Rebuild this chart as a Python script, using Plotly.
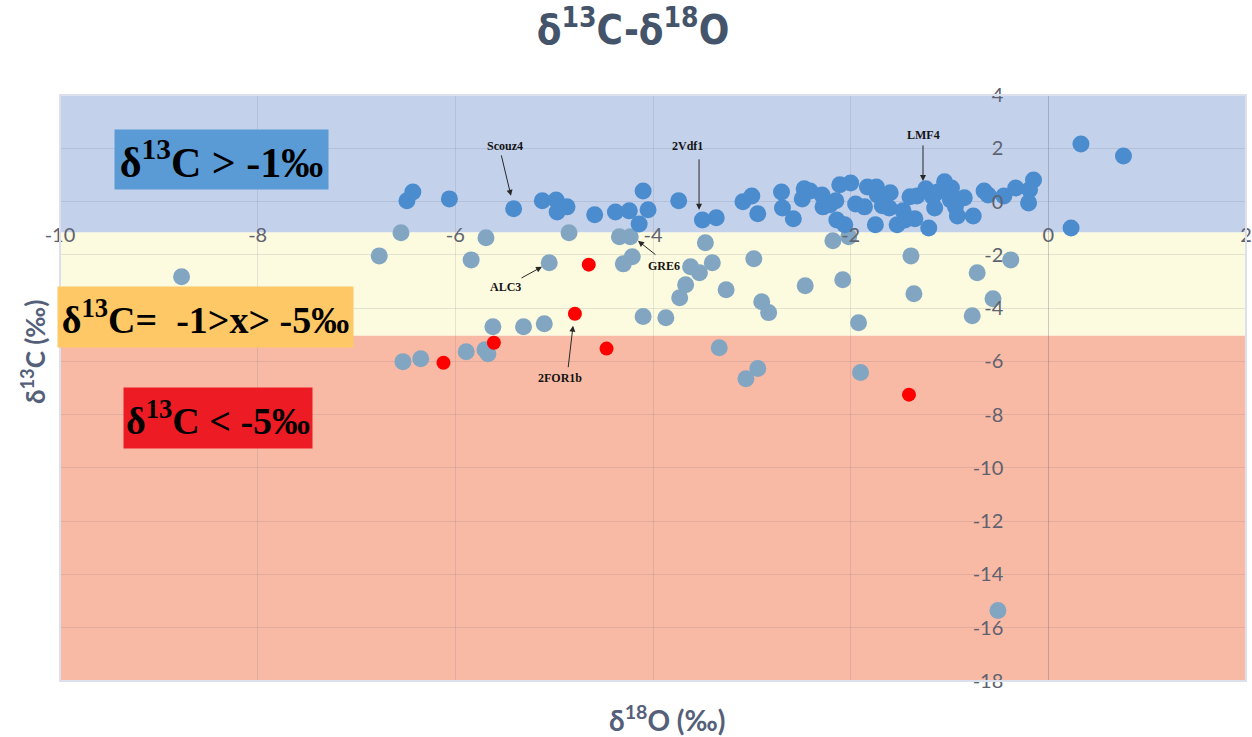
import plotly.graph_objects as go

# ---------------- data ----------------
# points with d13C > -1 permil (blue)
blue_d18O = [-6.49, -6.43, -6.06, -5.41, -5.12, -4.98, -4.87, -4.97, -4.59, -4.38,
             -4.24, -4.10, -4.05, -4.14, -3.74, -3.50, -3.36, -3.09, -3.00, -2.94,
             -2.70, -2.69, -2.58, -2.47, -2.41, -2.49, -2.29, -2.28, -2.21, -2.15,
             -2.11, -2.00, -2.14, -2.06, -1.95, -1.86, -1.83, -1.74, -1.73, -1.68,
             -1.61, -1.60, -1.75, -1.53, -1.47, -1.40, -1.33, -1.35, -1.24, -1.17,
             -1.12, -1.21, -1.15, -1.05, -0.98, -0.99, -0.94, -0.92, -0.85, -0.76,
             -0.65, -0.61, -0.45, -0.33, -0.15, -0.19, -0.20, 0.23, 0.33, 0.76,
             -1.45]
blue_d13C = [0.03, 0.36, 0.10, -0.27, 0.03, 0.06, -0.20, -0.39, -0.50, -0.39,
             -0.35, 0.40, -0.31, -0.84, 0.03, -0.69, -0.61, -0.01, 0.21, -0.46,
             0.36, -0.24, -0.65, 0.48, 0.40, 0.10, 0.25, -0.20, -0.12, 0.03,
             0.63, 0.70, -0.69, -0.87, -0.09, -0.20, 0.55, 0.55, 0.25, -0.16,
             -0.24, 0.33, -0.87, -0.87, -0.35, 0.18, 0.21, -0.65, 0.48, 0.18,
             0.36, -0.99, -0.24, 0.74, 0.51, 0.06, -0.20, -0.54, 0.14, -0.54,
             0.40, 0.25, 0.21, 0.51, 0.81, 0.44, -0.05, -0.99, 2.16, 1.71,
             -0.69]

# points with d13C below -1 permil (grey-blue)
grey_d18O = [-6.55, -6.77, -8.77, -5.69, -4.85, -4.34, -4.23, -5.84, -5.05, -4.30,
             -4.21, -3.47, -3.62, -3.53, -3.40, -3.67, -3.73, -3.26, -2.98, -2.90,
             -2.83, -2.46, -4.10, -3.87, -5.62, -5.31, -5.10, -5.89, -5.70, -5.67,
             -6.35, -6.53, -3.33, -2.94, -3.06, -2.18, -2.02, -1.39, -0.38, -2.08,
             -1.36, -0.72, -0.56, -0.77, -1.92, -1.90, -0.51]
grey_d13C = [-1.17, -2.04, -2.82, -1.36, -1.17, -1.32, -1.32, -2.19, -2.30, -2.34,
             -2.07, -1.55, -2.45, -2.67, -2.30, -3.12, -3.61, -3.31, -2.15, -3.76,
             -4.17, -3.16, -4.32, -4.36, -4.70, -4.70, -4.59, -5.64, -5.56, -5.71,
             -5.90, -6.01, -5.49, -6.27, -6.65, -1.47, -1.32, -2.04, -2.19, -2.94,
             -3.46, -2.67, -3.65, -4.29, -4.55, -6.42, -15.35]

# highlighted samples (red)
red_d18O = [-4.65, -4.79, -5.61, -6.12, -4.47, -1.41]
red_d13C = [-2.37, -4.21, -5.30, -6.05, -5.52, -7.25]

# axis ticks
x_ticks = [-10, -8, -6, -4, -2, 0, 2]
x_tick_labels = ["-10", "-8", "-6", "-4", "-2", "0", "2"]
y_ticks = [4, 2, 0, -2, -4, -6, -8, -10, -12, -14, -16, -18]
y_tick_labels = ["4", "2", "0", "-2", "-4", "-6", "-8", "-10", "-12", "-14", "-16", "-18"]

# zone limits (d13C)
zone_upper = -1.16
zone_lower = -5.04

# labelled samples: name, tip (x, y), tail offset px, text position (x, y)
sample_names = ["Scouz4", "2Vdf1", "LMF4", "GRE6", "ALC3", "2FOR1b"]
tip_x = [-5.437, -3.534, -1.268, -4.152, -5.123, -4.809]
tip_y = [0.213, -0.312, 0.775, -1.474, -2.449, -4.661]
tail_dx = [-10, 0, 0, 19, -22, -5]
tail_dy = [-42, -52, -37, 15, 12, 43]
name_x = [-5.497, -3.646, -1.268, -3.889, -5.497, -4.941]
name_y = [2.088, 2.088, 2.50, -2.412, -3.199, -6.611]

# ---------------- figure ----------------
X0, X1 = -10, 2
Y0, Y1 = -18, 4
X_AXIS_AT = -0.72   # where the horizontal axis labels sit (d13C)

fig = go.Figure()

fig.add_trace(go.Scatter(x=grey_d18O, y=grey_d13C, mode="markers",
                         marker=dict(size=17, color="rgb(130,166,194)", line=dict(width=0)),
                         hoverinfo="x+y", showlegend=False))
fig.add_trace(go.Scatter(x=blue_d18O, y=blue_d13C, mode="markers",
                         marker=dict(size=17, color="rgb(74,140,206)", line=dict(width=0)),
                         hoverinfo="x+y", showlegend=False))
fig.add_trace(go.Scatter(x=red_d18O, y=red_d13C, mode="markers",
                         marker=dict(size=14, color="rgb(255,0,0)", line=dict(width=0)),
                         hoverinfo="x+y", showlegend=False))

shapes = [
    dict(type="rect", xref="x", yref="y", x0=X0, x1=X1, y0=zone_upper, y1=Y1,
         fillcolor="rgb(195,209,235)", line=dict(width=0), layer="below"),
    dict(type="rect", xref="x", yref="y", x0=X0, x1=X1, y0=zone_lower, y1=zone_upper,
         fillcolor="rgb(252,250,223)", line=dict(width=0), layer="below"),
    dict(type="rect", xref="x", yref="y", x0=X0, x1=X1, y0=Y0, y1=zone_lower,
         fillcolor="rgb(249,186,165)", line=dict(width=0), layer="below"),
    dict(type="rect", xref="paper", yref="paper", x0=0, x1=1, y0=0, y1=1,
         line=dict(width=2, color="rgb(220,224,236)"), layer="above"),
]

annotations = []
# zone label boxes
box_font = "Liberation Serif, Times New Roman, serif"
annotations.append(dict(x=-8.366, y=1.58, xref="x", yref="y", showarrow=False,
                        text="δ<sup>13</sup>C &gt; -1‰", width=211, height=57,
                        bgcolor="rgb(91,155,213)", align="center",
                        font=dict(family=box_font, size=42, color="black", weight="bold")))
annotations.append(dict(x=-8.528, y=-4.324, xref="x", yref="y", showarrow=False,
                        text="δ<sup>13</sup>C=&nbsp; -1&gt;x&gt; -5‰", width=293, height=58,
                        bgcolor="rgb(254,200,102)", align="center",
                        font=dict(family=box_font, size=38, color="black", weight="bold")))
annotations.append(dict(x=-8.40, y=-8.11, xref="x", yref="y", showarrow=False,
                        text="δ<sup>13</sup>C &lt; -5‰", width=186, height=58,
                        bgcolor="rgb(237,28,36)", align="center",
                        font=dict(family=box_font, size=38, color="black", weight="bold")))

# sample labels with arrows
for i, nm in enumerate(sample_names):
    annotations.append(dict(x=tip_x[i], y=tip_y[i], xref="x", yref="y", text="",
                            showarrow=True, ax=tail_dx[i], ay=tail_dy[i],
                            arrowhead=2, arrowsize=1.2, arrowwidth=1,
                            arrowcolor="rgb(40,40,40)", standoff=0, startstandoff=0))
    annotations.append(dict(x=name_x[i], y=name_y[i], xref="x", yref="y", text=nm,
                            showarrow=False,
                            font=dict(family=box_font, size=12, color="rgb(20,20,20)",
                                      weight="bold")))

# axis titles
title_color = "rgb(84,96,122)"
annotations.append(dict(x=(667 - 60) / 1186, y=-(718 - 681) / 586, xref="paper", yref="paper",
                        text="δ<sup>18</sup>O (‰)", showarrow=False, yanchor="middle",
                        font=dict(family="Lato, Open Sans, sans-serif", size=28,
                                  color=title_color, weight="bold")))
annotations.append(dict(x=-(60 - 33) / 1186, y=(681 - 352) / 586, xref="paper", yref="paper",
                        text="δ<sup>13</sup>C (‰)", showarrow=False, textangle=-90,
                        xanchor="center", yanchor="middle",
                        font=dict(family="Lato, Open Sans, sans-serif", size=26,
                                  color=title_color, weight="bold")))

tick_font = dict(family="Lato, Open Sans, sans-serif", size=20, color="rgb(95,98,112)")
grid_col = "rgba(70,80,110,0.13)"

fig.update_layout(
    width=1252, height=737,
    margin=dict(l=60, r=6, t=95, b=56, autoexpand=False),
    paper_bgcolor="white", plot_bgcolor="white",
    title=dict(text="δ<sup>13</sup>C-δ<sup>18</sup>O", x=633 / 1252, xanchor="center",
               y=1 - 30 / 737, yanchor="middle",
               font=dict(family="Liberation Sans Narrow, DejaVu Sans Condensed, Arial Narrow, sans-serif",
                         size=40, color="rgb(68,84,106)", weight="bold")),
    xaxis=dict(range=[X0, X1], tickvals=x_ticks, ticktext=x_tick_labels,
               anchor="free", position=(X_AXIS_AT - Y0) / (Y1 - Y0), automargin=False,
               showgrid=True, gridcolor=grid_col, gridwidth=1,
               zeroline=True, zerolinecolor="rgba(70,80,110,0.28)", zerolinewidth=1,
               showline=False, ticks="", tickfont=tick_font, fixedrange=True),
    yaxis=dict(range=[Y0, Y1], tickvals=y_ticks, ticktext=y_tick_labels,
               anchor="free", position=(0 - X0) / (X1 - X0), side="left", automargin=False,
               showgrid=True, gridcolor=grid_col, gridwidth=1,
               zeroline=False, showline=False, ticks="", tickfont=tick_font,
               ticklabelstandoff=45, fixedrange=True),
    shapes=shapes,
    annotations=annotations,
)

fig.write_html("out.html", config={"displayModeBar": False},
               post_script="document.body.style.margin='0px';document.body.style.overflow='hidden';")
